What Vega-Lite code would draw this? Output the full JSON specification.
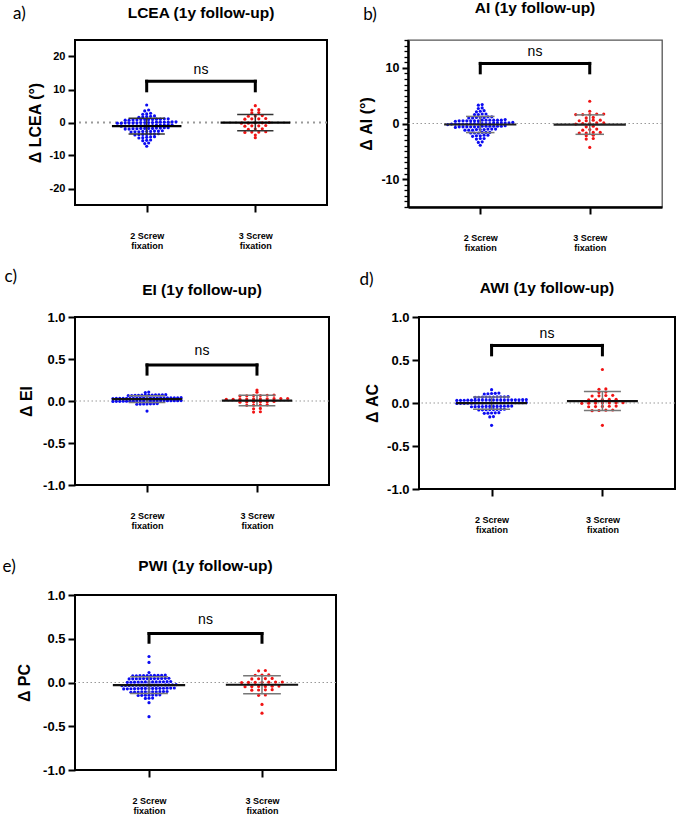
{
  "$schema": "https://vega.github.io/schema/vega-lite/v6.json",
  "padding": {"left": 2, "top": 0, "right": 0, "bottom": 0},
  "background": "white",
  "config": {
    "font": "Liberation Sans",
    "view": {"stroke": "#000", "strokeWidth": 2},
    "axis": {"domain": false, "grid": false, "tickColor": "#000", "tickWidth": 2, "tickSize": 7, "labelColor": "#000", "labelFont": "Liberation Sans", "labelFontWeight": "bold", "titleFont": "Liberation Sans", "titleFontWeight": "bold", "titleColor": "#000"},
    "axisY": {"labelFontSize": 13, "labelPadding": 3, "titleFontSize": 16, "titlePadding": 6},
    "axisX": {"labelFontSize": 9, "labelLineHeight": 10.5, "labelPadding": 19, "labelBaseline": "top", "labelAngle": 0},
    "title": {"font": "Liberation Sans", "fontSize": 15.5, "fontWeight": "bold", "color": "#000", "anchor": "middle", "frame": "group", "offset": 16}
  },
  "datasets": {
    "lcea": [
      {"s":2,"v":5.3},{"s":2,"v":3.5},{"s":2,"v":3.8},{"s":2,"v":2.6},{"s":2,"v":2.8},{"s":2,"v":2.5},
      {"s":2,"v":1.7},{"s":2,"v":1.9},{"s":2,"v":1.8},{"s":2,"v":1.6},{"s":2,"v":2.0},
      {"s":2,"v":0.8},{"s":2,"v":1.0},{"s":2,"v":0.9},{"s":2,"v":0.7},{"s":2,"v":1.1},{"s":2,"v":0.9},{"s":2,"v":0.8},{"s":2,"v":1.0},{"s":2,"v":0.9},{"s":2,"v":0.7},{"s":2,"v":1.1},{"s":2,"v":0.9},
      {"s":2,"v":0.0},{"s":2,"v":0.1},{"s":2,"v":-0.1},{"s":2,"v":0.2},{"s":2,"v":-0.2},{"s":2,"v":0.0},{"s":2,"v":0.1},{"s":2,"v":-0.1},{"s":2,"v":0.0},{"s":2,"v":0.2},{"s":2,"v":-0.2},{"s":2,"v":0.1},{"s":2,"v":-0.1},{"s":2,"v":0.0},{"s":2,"v":0.1},{"s":2,"v":-0.1},
      {"s":2,"v":-0.8},{"s":2,"v":-1.0},{"s":2,"v":-0.9},{"s":2,"v":-0.7},{"s":2,"v":-1.1},{"s":2,"v":-0.9},{"s":2,"v":-0.8},{"s":2,"v":-1.0},{"s":2,"v":-0.9},{"s":2,"v":-0.7},{"s":2,"v":-1.1},{"s":2,"v":-0.9},{"s":2,"v":-0.8},{"s":2,"v":-1.0},
      {"s":2,"v":-1.7},{"s":2,"v":-1.9},{"s":2,"v":-1.8},{"s":2,"v":-1.6},{"s":2,"v":-2.0},{"s":2,"v":-1.8},{"s":2,"v":-1.7},{"s":2,"v":-1.9},{"s":2,"v":-1.8},{"s":2,"v":-1.6},{"s":2,"v":-2.0},{"s":2,"v":-1.8},
      {"s":2,"v":-2.6},{"s":2,"v":-2.8},{"s":2,"v":-2.7},{"s":2,"v":-2.5},{"s":2,"v":-2.9},{"s":2,"v":-2.7},{"s":2,"v":-2.6},{"s":2,"v":-2.8},{"s":2,"v":-2.7},
      {"s":2,"v":-3.5},{"s":2,"v":-3.7},{"s":2,"v":-3.6},{"s":2,"v":-3.4},{"s":2,"v":-3.8},{"s":2,"v":-3.6},{"s":2,"v":-3.5},
      {"s":2,"v":-4.4},{"s":2,"v":-4.6},{"s":2,"v":-4.5},{"s":2,"v":-4.3},{"s":2,"v":-4.7},
      {"s":2,"v":-5.3},{"s":2,"v":-5.5},{"s":2,"v":-5.4},{"s":2,"v":-6.2},{"s":2,"v":-6.4},{"s":2,"v":-7.2},
      {"s":3,"v":5.1},{"s":3,"v":3.8},{"s":3,"v":3.9},{"s":3,"v":2.9},{"s":3,"v":3.0},{"s":3,"v":2.0},{"s":3,"v":2.1},{"s":3,"v":1.9},
      {"s":3,"v":1.1},{"s":3,"v":1.2},{"s":3,"v":1.0},{"s":3,"v":1.1},{"s":3,"v":-0.1},{"s":3,"v":-0.2},{"s":3,"v":0.0},{"s":3,"v":-0.1},{"s":3,"v":-0.2},
      {"s":3,"v":-1.0},{"s":3,"v":-0.9},{"s":3,"v":-1.1},{"s":3,"v":-1.0},{"s":3,"v":-2.0},{"s":3,"v":-1.9},{"s":3,"v":-2.1},
      {"s":3,"v":-2.9},{"s":3,"v":-2.8},{"s":3,"v":-3.0},{"s":3,"v":-2.9},{"s":3,"v":-3.8},{"s":3,"v":-4.6}
    ],
    "ai": [
      {"s":2,"v":3.3},{"s":2,"v":3.4},{"s":2,"v":2.7},{"s":2,"v":2.8},{"s":2,"v":2.2},{"s":2,"v":2.1},{"s":2,"v":2.3},
      {"s":2,"v":1.6},{"s":2,"v":1.7},{"s":2,"v":1.6},{"s":2,"v":1.7},
      {"s":2,"v":1.0},{"s":2,"v":1.1},{"s":2,"v":1.2},{"s":2,"v":1.1},{"s":2,"v":1.0},{"s":2,"v":1.2},{"s":2,"v":1.1},
      {"s":2,"v":0.5},{"s":2,"v":0.6},{"s":2,"v":0.5},{"s":2,"v":0.6},{"s":2,"v":0.5},{"s":2,"v":0.6},{"s":2,"v":0.5},{"s":2,"v":0.6},{"s":2,"v":0.5},{"s":2,"v":0.6},{"s":2,"v":0.5},{"s":2,"v":0.6},{"s":2,"v":0.4},{"s":2,"v":0.7},
      {"s":2,"v":0.0},{"s":2,"v":0.1},{"s":2,"v":-0.1},{"s":2,"v":0.0},{"s":2,"v":0.1},{"s":2,"v":-0.1},{"s":2,"v":0.0},{"s":2,"v":0.1},{"s":2,"v":-0.1},{"s":2,"v":0.0},{"s":2,"v":0.1},{"s":2,"v":-0.1},{"s":2,"v":0.2},{"s":2,"v":-0.2},{"s":2,"v":0.0},{"s":2,"v":0.1},{"s":2,"v":-0.1},{"s":2,"v":0.0},
      {"s":2,"v":-0.5},{"s":2,"v":-0.6},{"s":2,"v":-0.5},{"s":2,"v":-0.6},{"s":2,"v":-0.5},{"s":2,"v":-0.6},{"s":2,"v":-0.5},{"s":2,"v":-0.6},{"s":2,"v":-0.5},{"s":2,"v":-0.6},{"s":2,"v":-0.4},{"s":2,"v":-0.7},{"s":2,"v":-0.5},{"s":2,"v":-0.6},
      {"s":2,"v":-1.0},{"s":2,"v":-1.1},{"s":2,"v":-1.2},{"s":2,"v":-1.1},{"s":2,"v":-1.0},{"s":2,"v":-1.2},{"s":2,"v":-1.1},{"s":2,"v":-1.0},{"s":2,"v":-1.2},
      {"s":2,"v":-1.6},{"s":2,"v":-1.7},{"s":2,"v":-1.6},{"s":2,"v":-1.7},{"s":2,"v":-1.6},{"s":2,"v":-1.7},
      {"s":2,"v":-2.1},{"s":2,"v":-2.2},{"s":2,"v":-2.3},{"s":2,"v":-2.2},{"s":2,"v":-2.1},
      {"s":2,"v":-2.7},{"s":2,"v":-2.8},{"s":2,"v":-2.7},{"s":2,"v":-3.3},{"s":2,"v":-3.4},{"s":2,"v":-3.9},
      {"s":3,"v":4.0},{"s":3,"v":2.2},{"s":3,"v":1.6},{"s":3,"v":1.7},{"s":3,"v":1.6},{"s":3,"v":1.7},{"s":3,"v":1.6},
      {"s":3,"v":1.1},{"s":3,"v":1.0},{"s":3,"v":0.5},{"s":3,"v":0.6},{"s":3,"v":0.5},{"s":3,"v":0.6},
      {"s":3,"v":0.0},{"s":3,"v":0.1},{"s":3,"v":-0.1},{"s":3,"v":0.0},{"s":3,"v":0.1},{"s":3,"v":-0.5},{"s":3,"v":-0.6},
      {"s":3,"v":-1.1},{"s":3,"v":-1.0},{"s":3,"v":-1.2},{"s":3,"v":-1.6},{"s":3,"v":-1.7},{"s":3,"v":-1.6},{"s":3,"v":-1.7},
      {"s":3,"v":-2.2},{"s":3,"v":-2.1},{"s":3,"v":-2.8},{"s":3,"v":-2.7},{"s":3,"v":-4.3}
    ],
    "ei": [
      {"s":2,"v":0.1},{"s":2,"v":0.106},
      {"s":2,"v":0.068},{"s":2,"v":0.072},{"s":2,"v":0.07},{"s":2,"v":0.066},{"s":2,"v":0.074},{"s":2,"v":0.07},{"s":2,"v":0.068},{"s":2,"v":0.072},{"s":2,"v":0.065},{"s":2,"v":0.075},{"s":2,"v":0.069},{"s":2,"v":0.071},
      {"s":2,"v":0.033},{"s":2,"v":0.037},{"s":2,"v":0.035},{"s":2,"v":0.031},{"s":2,"v":0.039},{"s":2,"v":0.035},{"s":2,"v":0.033},{"s":2,"v":0.037},{"s":2,"v":0.035},{"s":2,"v":0.031},{"s":2,"v":0.039},{"s":2,"v":0.035},{"s":2,"v":0.034},{"s":2,"v":0.036},{"s":2,"v":0.032},{"s":2,"v":0.038},{"s":2,"v":0.035},{"s":2,"v":0.033},{"s":2,"v":0.037},{"s":2,"v":0.03},{"s":2,"v":0.04},
      {"s":2,"v":0.002},{"s":2,"v":-0.002},{"s":2,"v":0.0},{"s":2,"v":0.004},{"s":2,"v":-0.004},{"s":2,"v":0.001},{"s":2,"v":-0.001},{"s":2,"v":0.003},{"s":2,"v":-0.003},{"s":2,"v":0.0},{"s":2,"v":0.005},{"s":2,"v":-0.005},{"s":2,"v":0.002},{"s":2,"v":-0.002},{"s":2,"v":0.0},{"s":2,"v":0.004},{"s":2,"v":-0.004},{"s":2,"v":0.001},{"s":2,"v":-0.001},{"s":2,"v":0.003},{"s":2,"v":-0.003},
      {"s":2,"v":-0.033},{"s":2,"v":-0.037},{"s":2,"v":-0.035},{"s":2,"v":-0.031},{"s":2,"v":-0.039},{"s":2,"v":-0.034},{"s":2,"v":-0.036},{"s":2,"v":-0.12},
      {"s":3,"v":0.13},{"s":3,"v":0.105},{"s":3,"v":0.062},{"s":3,"v":0.068},{"s":3,"v":0.065},{"s":3,"v":0.06},{"s":3,"v":0.07},{"s":3,"v":0.064},
      {"s":3,"v":0.022},{"s":3,"v":0.028},{"s":3,"v":0.025},{"s":3,"v":0.02},{"s":3,"v":0.03},{"s":3,"v":0.024},{"s":3,"v":0.026},{"s":3,"v":0.021},{"s":3,"v":0.029},{"s":3,"v":0.025},
      {"s":3,"v":-0.008},{"s":3,"v":-0.012},{"s":3,"v":-0.01},{"s":3,"v":-0.006},{"s":3,"v":-0.014},{"s":3,"v":-0.01},
      {"s":3,"v":-0.048},{"s":3,"v":-0.052},{"s":3,"v":-0.05},{"s":3,"v":-0.046},{"s":3,"v":-0.088},{"s":3,"v":-0.092},{"s":3,"v":-0.128},{"s":3,"v":-0.132}
    ],
    "awi": [
      {"s":2,"v":0.155},{"s":2,"v":0.108},{"s":2,"v":0.112},{"s":2,"v":0.11},{"s":2,"v":0.105},{"s":2,"v":0.115},
      {"s":2,"v":0.068},{"s":2,"v":0.072},{"s":2,"v":0.07},{"s":2,"v":0.065},{"s":2,"v":0.075},{"s":2,"v":0.07},{"s":2,"v":0.067},{"s":2,"v":0.073},{"s":2,"v":0.069},{"s":2,"v":0.071},
      {"s":2,"v":0.033},{"s":2,"v":0.037},{"s":2,"v":0.035},{"s":2,"v":0.031},{"s":2,"v":0.039},{"s":2,"v":0.035},{"s":2,"v":0.033},{"s":2,"v":0.037},{"s":2,"v":0.035},{"s":2,"v":0.03},{"s":2,"v":0.04},{"s":2,"v":0.034},{"s":2,"v":0.036},{"s":2,"v":0.032},{"s":2,"v":0.038},{"s":2,"v":0.035},{"s":2,"v":0.033},{"s":2,"v":0.037},{"s":2,"v":0.035},{"s":2,"v":0.036},
      {"s":2,"v":0.002},{"s":2,"v":-0.002},{"s":2,"v":0.0},{"s":2,"v":0.004},{"s":2,"v":-0.004},{"s":2,"v":0.001},{"s":2,"v":-0.001},{"s":2,"v":0.003},{"s":2,"v":-0.003},{"s":2,"v":0.0},{"s":2,"v":0.005},{"s":2,"v":-0.005},{"s":2,"v":0.002},{"s":2,"v":-0.002},{"s":2,"v":0.0},{"s":2,"v":0.004},{"s":2,"v":-0.004},{"s":2,"v":0.001},{"s":2,"v":-0.001},{"s":2,"v":0.0},
      {"s":2,"v":-0.038},{"s":2,"v":-0.042},{"s":2,"v":-0.04},{"s":2,"v":-0.036},{"s":2,"v":-0.044},{"s":2,"v":-0.04},{"s":2,"v":-0.039},{"s":2,"v":-0.041},{"s":2,"v":-0.037},{"s":2,"v":-0.043},{"s":2,"v":-0.04},{"s":2,"v":-0.04},
      {"s":2,"v":-0.075},{"s":2,"v":-0.079},{"s":2,"v":-0.077},{"s":2,"v":-0.073},{"s":2,"v":-0.081},{"s":2,"v":-0.077},{"s":2,"v":-0.076},{"s":2,"v":-0.078},
      {"s":2,"v":-0.114},{"s":2,"v":-0.118},{"s":2,"v":-0.116},{"s":2,"v":-0.112},{"s":2,"v":-0.12},{"s":2,"v":-0.158},{"s":2,"v":-0.162},{"s":2,"v":-0.26},
      {"s":3,"v":0.39},{"s":3,"v":0.16},{"s":3,"v":0.164},{"s":3,"v":0.123},{"s":3,"v":0.127},
      {"s":3,"v":0.083},{"s":3,"v":0.087},{"s":3,"v":0.081},{"s":3,"v":0.089},
      {"s":3,"v":0.038},{"s":3,"v":0.042},{"s":3,"v":0.04},{"s":3,"v":0.036},{"s":3,"v":0.044},
      {"s":3,"v":0.002},{"s":3,"v":-0.002},{"s":3,"v":0.0},{"s":3,"v":0.004},{"s":3,"v":-0.004},{"s":3,"v":0.001},{"s":3,"v":-0.001},
      {"s":3,"v":-0.038},{"s":3,"v":-0.042},{"s":3,"v":-0.04},{"s":3,"v":-0.036},{"s":3,"v":-0.044},
      {"s":3,"v":-0.083},{"s":3,"v":-0.087},{"s":3,"v":-0.081},{"s":3,"v":-0.089},{"s":3,"v":-0.26}
    ],
    "pwi": [
      {"s":2,"v":0.297},{"s":2,"v":0.23},{"s":2,"v":0.114},
      {"s":2,"v":0.078},{"s":2,"v":0.082},{"s":2,"v":0.08},{"s":2,"v":0.075},{"s":2,"v":0.085},{"s":2,"v":0.08},{"s":2,"v":0.077},{"s":2,"v":0.083},{"s":2,"v":0.079},{"s":2,"v":0.081},
      {"s":2,"v":0.043},{"s":2,"v":0.047},{"s":2,"v":0.045},{"s":2,"v":0.041},{"s":2,"v":0.049},{"s":2,"v":0.045},{"s":2,"v":0.044},{"s":2,"v":0.046},{"s":2,"v":0.042},{"s":2,"v":0.048},{"s":2,"v":0.045},{"s":2,"v":0.045},
      {"s":2,"v":0.005},{"s":2,"v":0.009},{"s":2,"v":0.007},{"s":2,"v":0.003},{"s":2,"v":0.011},{"s":2,"v":0.007},{"s":2,"v":0.006},{"s":2,"v":0.008},{"s":2,"v":0.004},{"s":2,"v":0.01},{"s":2,"v":0.007},{"s":2,"v":0.007},{"s":2,"v":0.002},
      {"s":2,"v":-0.028},{"s":2,"v":-0.032},{"s":2,"v":-0.03},{"s":2,"v":-0.026},{"s":2,"v":-0.034},{"s":2,"v":-0.03},{"s":2,"v":-0.029},{"s":2,"v":-0.031},{"s":2,"v":-0.027},{"s":2,"v":-0.033},{"s":2,"v":-0.03},{"s":2,"v":-0.03},{"s":2,"v":-0.025},{"s":2,"v":-0.035},{"s":2,"v":-0.03},{"s":2,"v":-0.03},
      {"s":2,"v":-0.066},{"s":2,"v":-0.07},{"s":2,"v":-0.068},{"s":2,"v":-0.064},{"s":2,"v":-0.072},{"s":2,"v":-0.068},{"s":2,"v":-0.067},{"s":2,"v":-0.069},{"s":2,"v":-0.065},{"s":2,"v":-0.071},{"s":2,"v":-0.068},{"s":2,"v":-0.068},{"s":2,"v":-0.063},{"s":2,"v":-0.073},{"s":2,"v":-0.068},
      {"s":2,"v":-0.105},{"s":2,"v":-0.109},{"s":2,"v":-0.107},{"s":2,"v":-0.103},{"s":2,"v":-0.111},{"s":2,"v":-0.107},{"s":2,"v":-0.106},{"s":2,"v":-0.108},{"s":2,"v":-0.104},{"s":2,"v":-0.11},{"s":2,"v":-0.107},
      {"s":2,"v":-0.143},{"s":2,"v":-0.147},{"s":2,"v":-0.145},{"s":2,"v":-0.141},{"s":2,"v":-0.149},{"s":2,"v":-0.145},{"s":2,"v":-0.144},
      {"s":2,"v":-0.178},{"s":2,"v":-0.182},{"s":2,"v":-0.18},{"s":2,"v":-0.23},{"s":2,"v":-0.39},
      {"s":3,"v":0.133},{"s":3,"v":0.137},{"s":3,"v":0.083},{"s":3,"v":0.087},{"s":3,"v":0.085},
      {"s":3,"v":0.043},{"s":3,"v":0.047},{"s":3,"v":0.045},{"s":3,"v":0.041},
      {"s":3,"v":0.001},{"s":3,"v":0.005},{"s":3,"v":0.003},{"s":3,"v":0.0},{"s":3,"v":0.006},{"s":3,"v":0.002},{"s":3,"v":0.004},
      {"s":3,"v":-0.043},{"s":3,"v":-0.047},{"s":3,"v":-0.045},{"s":3,"v":-0.041},{"s":3,"v":-0.049},{"s":3,"v":-0.045},
      {"s":3,"v":-0.084},{"s":3,"v":-0.088},{"s":3,"v":-0.086},{"s":3,"v":-0.082},{"s":3,"v":-0.143},{"s":3,"v":-0.147},{"s":3,"v":-0.25},{"s":3,"v":-0.35}
    ]
  },
  "vconcat": [
    {
      "spacing": 13,
      "vconcat": [
        {
          "spacing": 28,
          "hconcat": [
            {
              "title": {"text": "a)", "anchor": "start", "frame": "bounds", "font": "Lato", "fontSize": 17, "fontWeight": "normal", "offset": -18, "dx": -13},
              "vconcat": [{
                "width": 252, "height": 165,
                "title": {"text": "LCEA (1y follow-up)", "offset": 19},
                "layer": [
                  {"data": {"values": [{}]},
                   "mark": {"type": "rule", "strokeDash": [2, 4], "strokeWidth": 2.2, "color": "#9a9a9a"},
                   "encoding": {"y": {"datum": 0, "type": "quantitative", "scale": {"domain": [-25, 25], "nice": false}, "axis": {"values": [-20, -10, 0, 10, 20], "labelExpr": "replace(datum.label, '\u2212', '-')", "labelFontSize": 11, "title": "Δ LCEA (°)"}}}},
                  {"data": {"name": "lcea"},
                   "transform": [
                     {"calculate": "round(datum.v / 0.9)", "as": "row"},
                     {"window": [{"op": "row_number", "as": "k"}, {"op": "count", "as": "n"}], "groupby": ["s", "row"], "sort": [{"field": "v"}], "frame": [null, null]},
                     {"calculate": "datum.s + (datum.k - (datum.n + 1) / 2) * (datum.s == 2 ? 0.036 : 0.064)", "as": "xp"}
                   ],
                   "mark": {"type": "circle", "size": 10, "opacity": 1},
                   "encoding": {
                     "x": {"field": "xp", "type": "quantitative", "scale": {"domain": [1.34, 3.66], "nice": false, "zero": false}, "axis": {"values": [2, 3], "labelExpr": "[datum.value + ' Screw', 'fixation']", "title": null}},
                     "y": {"field": "v", "type": "quantitative"},
                     "color": {"field": "s", "type": "nominal", "scale": {"domain": [2, 3], "range": ["#0b0bf2", "#f01414"]}, "legend": null}
                   }},
                  {"data": {"name": "lcea"},
                   "transform": [
                     {"aggregate": [{"op": "mean", "field": "v", "as": "m"}, {"op": "stdev", "field": "v", "as": "sd"}], "groupby": ["s"]},
                     {"calculate": "datum.m - datum.sd", "as": "lo"},
                     {"calculate": "datum.m + datum.sd", "as": "hi"},
                     {"calculate": "datum.s - 0.32", "as": "ml"},
                     {"calculate": "datum.s + 0.32", "as": "mr"},
                     {"calculate": "datum.s - 0.167", "as": "cl"},
                     {"calculate": "datum.s + 0.167", "as": "cr"}
                   ],
                   "layer": [
                     {"mark": {"type": "rule", "color": "#333", "strokeWidth": 1.5}, "encoding": {"x": {"field": "s", "type": "quantitative"}, "y": {"field": "lo", "type": "quantitative"}, "y2": {"field": "hi"}}},
                     {"mark": {"type": "rule", "color": "#333", "strokeWidth": 1.5}, "encoding": {"x": {"field": "cl", "type": "quantitative"}, "x2": {"field": "cr"}, "y": {"field": "lo", "type": "quantitative"}}},
                     {"mark": {"type": "rule", "color": "#333", "strokeWidth": 1.5}, "encoding": {"x": {"field": "cl", "type": "quantitative"}, "x2": {"field": "cr"}, "y": {"field": "hi", "type": "quantitative"}}},
                     {"mark": {"type": "rule", "color": "#000", "strokeWidth": 2.2}, "encoding": {"x": {"field": "ml", "type": "quantitative"}, "x2": {"field": "mr"}, "y": {"field": "m", "type": "quantitative"}}}
                   ]},
                  {"data": {"values": [{"xa": 2, "xb": 3, "ya": 12.5, "yb": 12.5}, {"xa": 2, "xb": 2, "ya": 9.6, "yb": 12.5}, {"xa": 3, "xb": 3, "ya": 9.6, "yb": 12.5}]},
                   "mark": {"type": "rule", "strokeWidth": 3, "color": "#000", "strokeCap": "square"},
                   "encoding": {"x": {"field": "xa", "type": "quantitative"}, "x2": {"field": "xb"}, "y": {"field": "ya", "type": "quantitative"}, "y2": {"field": "yb"}}},
                  {"data": {"values": [{"x": 2.5, "y": 16, "t": "ns"}]},
                   "mark": {"type": "text", "fontSize": 14, "baseline": "middle", "font": "Liberation Sans", "color": "#000"},
                   "encoding": {"x": {"field": "x", "type": "quantitative"}, "y": {"field": "y", "type": "quantitative"}, "text": {"field": "t"}}}
                ]
              }]
            },
            {
              "title": {"text": "b)", "anchor": "start", "frame": "bounds", "font": "Lato", "fontSize": 17, "fontWeight": "normal", "offset": -24, "dx": 5},
              "vconcat": [{
                "width": 254, "height": 167,
                "view": {"stroke": "#555", "strokeWidth": 1.3},
                "title": {"text": "AI (1y follow-up)", "offset": 23},
                "resolve": {"axis": {"y": "independent"}},
                "layer": [
                  {"data": {"values": [{}]},
                   "mark": {"type": "rule", "strokeDash": [1.5, 2.5], "strokeWidth": 1.2, "color": "#999"},
                   "encoding": {"y": {"datum": 0, "type": "quantitative", "scale": {"domain": [-15, 15], "nice": false},
                     "axis": {"orient": "left", "values": [-15,-14,-13,-12,-11,-9,-8,-7,-6,-5,-4,-3,-2,-1,1,2,3,4,5,6,7,8,9,11,12,13,14,15],
                              "labels": false, "tickSize": 4, "tickWidth": 1.3, "domain": false, "title": null}}}},
                  {"data": {"name": "ai"},
                   "transform": [
                     {"calculate": "round(datum.v / 0.55)", "as": "row"},
                     {"window": [{"op": "row_number", "as": "k"}, {"op": "count", "as": "n"}], "groupby": ["s", "row"], "sort": [{"field": "v"}], "frame": [null, null]},
                     {"calculate": "datum.s + (datum.k - (datum.n + 1) / 2) * (datum.s == 2 ? 0.035 : 0.064)", "as": "xp"}
                   ],
                   "mark": {"type": "circle", "size": 10, "opacity": 1},
                   "encoding": {
                     "x": {"field": "xp", "type": "quantitative", "scale": {"domain": [1.34, 3.66], "nice": false, "zero": false}, "axis": {"values": [2, 3], "labelExpr": "[datum.value + ' Screw', 'fixation']", "title": null, "domain": true, "domainWidth": 2.5, "domainColor": "#000"}},
                     "y": {"field": "v", "type": "quantitative",
                       "axis": {"orient": "left", "values": [-10, 0, 10], "labelExpr": "replace(datum.label, '\u2212', '-')", "labelFontSize": 12.5, "tickSize": 6, "tickWidth": 2,
                                "domain": true, "domainWidth": 2.5, "domainColor": "#000", "title": "Δ AI (°)"}},
                     "color": {"field": "s", "type": "nominal", "scale": {"domain": [2, 3], "range": ["#2a5cff", "#ff3b2f"]}, "legend": null}
                   }},
                  {"data": {"name": "ai"},
                   "transform": [
                     {"aggregate": [{"op": "mean", "field": "v", "as": "m"}, {"op": "stdev", "field": "v", "as": "sd"}], "groupby": ["s"]},
                     {"calculate": "datum.m - datum.sd", "as": "lo"},
                     {"calculate": "datum.m + datum.sd", "as": "hi"},
                     {"calculate": "datum.s - 0.33", "as": "ml"},
                     {"calculate": "datum.s + 0.33", "as": "mr"},
                     {"calculate": "datum.s - 0.13", "as": "cl"},
                     {"calculate": "datum.s + 0.13", "as": "cr"}
                   ],
                   "layer": [
                     {"mark": {"type": "rule", "color": "#777", "strokeWidth": 1.5}, "encoding": {"x": {"field": "s", "type": "quantitative"}, "y": {"field": "lo", "type": "quantitative", "axis": null}, "y2": {"field": "hi"}}},
                     {"mark": {"type": "rule", "color": "#777", "strokeWidth": 1.5}, "encoding": {"x": {"field": "cl", "type": "quantitative"}, "x2": {"field": "cr"}, "y": {"field": "lo", "type": "quantitative", "axis": null}}},
                     {"mark": {"type": "rule", "color": "#777", "strokeWidth": 1.5}, "encoding": {"x": {"field": "cl", "type": "quantitative"}, "x2": {"field": "cr"}, "y": {"field": "hi", "type": "quantitative", "axis": null}}},
                     {"mark": {"type": "rule", "color": "#222", "strokeWidth": 2.2}, "encoding": {"x": {"field": "ml", "type": "quantitative"}, "x2": {"field": "mr"}, "y": {"field": "m", "type": "quantitative", "axis": null}}}
                   ]},
                  {"data": {"values": [{"xa": 2, "xb": 3, "ya": 10.8, "yb": 10.8}, {"xa": 2, "xb": 2, "ya": 9.1, "yb": 10.8}, {"xa": 3, "xb": 3, "ya": 9.1, "yb": 10.8}]},
                   "mark": {"type": "rule", "strokeWidth": 3, "color": "#000", "strokeCap": "square"},
                   "encoding": {"x": {"field": "xa", "type": "quantitative"}, "x2": {"field": "xb"}, "y": {"field": "ya", "type": "quantitative", "axis": null}, "y2": {"field": "yb"}}},
                  {"data": {"values": [{"x": 2.5, "y": 12.9, "t": "ns"}]},
                   "mark": {"type": "text", "fontSize": 14, "baseline": "middle", "font": "Liberation Sans", "color": "#000"},
                   "encoding": {"x": {"field": "x", "type": "quantitative"}, "y": {"field": "y", "type": "quantitative", "axis": null}, "text": {"field": "t"}}}
                ]
              }]
            }
          ]
        },
        {
          "spacing": 28,
          "hconcat": [
            {
              "title": {"text": "c)", "anchor": "start", "frame": "bounds", "font": "Lato", "fontSize": 17, "fontWeight": "normal", "offset": -4, "dx": -13},
              "vconcat": [{
                "width": 254, "height": 168,
                "title": {"text": "EI (1y follow-up)", "offset": 13},
                "layer": [
                  {"data": {"values": [{}]},
                   "mark": {"type": "rule", "strokeDash": [1.5, 2.5], "strokeWidth": 1.2, "color": "#999"},
                   "encoding": {"y": {"datum": 0, "type": "quantitative", "scale": {"domain": [-1, 1], "nice": false}, "axis": {"values": [-1, -0.5, 0, 0.5, 1], "format": ".1f", "labelExpr": "replace(datum.label, '\u2212', '-')", "titlePadding": 8, "title": "Δ EI"}}}},
                  {"data": {"name": "ei"},
                   "transform": [
                     {"calculate": "round(datum.v / 0.035)", "as": "row"},
                     {"window": [{"op": "row_number", "as": "k"}, {"op": "count", "as": "n"}], "groupby": ["s", "row"], "sort": [{"field": "v"}], "frame": [null, null]},
                     {"calculate": "datum.s + (datum.k - (datum.n + 1) / 2) * (datum.s == 2 ? 0.031 : 0.062)", "as": "xp"}
                   ],
                   "mark": {"type": "circle", "size": 10, "opacity": 1},
                   "encoding": {
                     "x": {"field": "xp", "type": "quantitative", "scale": {"domain": [1.345, 3.655], "nice": false, "zero": false}, "axis": {"values": [2, 3], "labelExpr": "[datum.value + ' Screw', 'fixation']", "title": null}},
                     "y": {"field": "v", "type": "quantitative"},
                     "color": {"field": "s", "type": "nominal", "scale": {"domain": [2, 3], "range": ["#0b0bf2", "#f01414"]}, "legend": null}
                   }},
                  {"data": {"name": "ei"},
                   "transform": [
                     {"aggregate": [{"op": "mean", "field": "v", "as": "m"}, {"op": "stdev", "field": "v", "as": "sd"}], "groupby": ["s"]},
                     {"calculate": "datum.m - datum.sd", "as": "lo"},
                     {"calculate": "datum.m + datum.sd", "as": "hi"},
                     {"calculate": "datum.s - 0.32", "as": "ml"},
                     {"calculate": "datum.s + 0.32", "as": "mr"},
                     {"calculate": "datum.s - 0.167", "as": "cl"},
                     {"calculate": "datum.s + 0.167", "as": "cr"}
                   ],
                   "layer": [
                     {"mark": {"type": "rule", "color": "#777", "strokeWidth": 1.5}, "encoding": {"x": {"field": "s", "type": "quantitative"}, "y": {"field": "lo", "type": "quantitative"}, "y2": {"field": "hi"}}},
                     {"mark": {"type": "rule", "color": "#777", "strokeWidth": 1.5}, "encoding": {"x": {"field": "cl", "type": "quantitative"}, "x2": {"field": "cr"}, "y": {"field": "lo", "type": "quantitative"}}},
                     {"mark": {"type": "rule", "color": "#777", "strokeWidth": 1.5}, "encoding": {"x": {"field": "cl", "type": "quantitative"}, "x2": {"field": "cr"}, "y": {"field": "hi", "type": "quantitative"}}},
                     {"mark": {"type": "rule", "color": "#111", "strokeWidth": 2.2}, "encoding": {"x": {"field": "ml", "type": "quantitative"}, "x2": {"field": "mr"}, "y": {"field": "m", "type": "quantitative"}}}
                   ]},
                  {"data": {"values": [{"xa": 2, "xb": 3, "ya": 0.43, "yb": 0.43}, {"xa": 2, "xb": 2, "ya": 0.32, "yb": 0.43}, {"xa": 3, "xb": 3, "ya": 0.32, "yb": 0.43}]},
                   "mark": {"type": "rule", "strokeWidth": 3, "color": "#000", "strokeCap": "square"},
                   "encoding": {"x": {"field": "xa", "type": "quantitative"}, "x2": {"field": "xb"}, "y": {"field": "ya", "type": "quantitative"}, "y2": {"field": "yb"}}},
                  {"data": {"values": [{"x": 2.5, "y": 0.59, "t": "ns"}]},
                   "mark": {"type": "text", "fontSize": 14, "baseline": "middle", "font": "Liberation Sans", "color": "#000"},
                   "encoding": {"x": {"field": "x", "type": "quantitative"}, "y": {"field": "y", "type": "quantitative"}, "text": {"field": "t"}}}
                ]
              }]
            },
            {
              "title": {"text": "d)", "anchor": "start", "frame": "bounds", "font": "Lato", "fontSize": 17, "fontWeight": "normal", "offset": -9, "dx": -4},
              "vconcat": [{
                "width": 256, "height": 172,
                "title": {"text": "AWI (1y follow-up)", "offset": 15},
                "layer": [
                  {"data": {"values": [{}]},
                   "mark": {"type": "rule", "strokeDash": [1.5, 2.5], "strokeWidth": 1.2, "color": "#999"},
                   "encoding": {"y": {"datum": 0, "type": "quantitative", "scale": {"domain": [-1, 1], "nice": false}, "axis": {"values": [-1, -0.5, 0, 0.5, 1], "format": ".1f", "labelExpr": "replace(datum.label, '\u2212', '-')", "title": "Δ AC"}}}},
                  {"data": {"name": "awi"},
                   "transform": [
                     {"calculate": "round(datum.v / 0.037)", "as": "row"},
                     {"window": [{"op": "row_number", "as": "k"}, {"op": "count", "as": "n"}], "groupby": ["s", "row"], "sort": [{"field": "v"}], "frame": [null, null]},
                     {"calculate": "datum.s + (datum.k - (datum.n + 1) / 2) * (datum.s == 2 ? 0.033 : 0.062)", "as": "xp"}
                   ],
                   "mark": {"type": "circle", "size": 10, "opacity": 1},
                   "encoding": {
                     "x": {"field": "xp", "type": "quantitative", "scale": {"domain": [1.345, 3.655], "nice": false, "zero": false}, "axis": {"values": [2, 3], "labelExpr": "[datum.value + ' Screw', 'fixation']", "title": null}},
                     "y": {"field": "v", "type": "quantitative"},
                     "color": {"field": "s", "type": "nominal", "scale": {"domain": [2, 3], "range": ["#0b0bf2", "#f01414"]}, "legend": null}
                   }},
                  {"data": {"name": "awi"},
                   "transform": [
                     {"aggregate": [{"op": "mean", "field": "v", "as": "m"}, {"op": "stdev", "field": "v", "as": "sd"}], "groupby": ["s"]},
                     {"calculate": "datum.m - datum.sd", "as": "lo"},
                     {"calculate": "datum.m + datum.sd", "as": "hi"},
                     {"calculate": "datum.s - 0.32", "as": "ml"},
                     {"calculate": "datum.s + 0.32", "as": "mr"},
                     {"calculate": "datum.s - 0.167", "as": "cl"},
                     {"calculate": "datum.s + 0.167", "as": "cr"}
                   ],
                   "layer": [
                     {"mark": {"type": "rule", "color": "#777", "strokeWidth": 1.5}, "encoding": {"x": {"field": "s", "type": "quantitative"}, "y": {"field": "lo", "type": "quantitative"}, "y2": {"field": "hi"}}},
                     {"mark": {"type": "rule", "color": "#777", "strokeWidth": 1.5}, "encoding": {"x": {"field": "cl", "type": "quantitative"}, "x2": {"field": "cr"}, "y": {"field": "lo", "type": "quantitative"}}},
                     {"mark": {"type": "rule", "color": "#777", "strokeWidth": 1.5}, "encoding": {"x": {"field": "cl", "type": "quantitative"}, "x2": {"field": "cr"}, "y": {"field": "hi", "type": "quantitative"}}},
                     {"mark": {"type": "rule", "color": "#111", "strokeWidth": 2.2}, "encoding": {"x": {"field": "ml", "type": "quantitative"}, "x2": {"field": "mr"}, "y": {"field": "m", "type": "quantitative"}}}
                   ]},
                  {"data": {"values": [{"xa": 2, "xb": 3, "ya": 0.67, "yb": 0.67}, {"xa": 2, "xb": 2, "ya": 0.56, "yb": 0.67}, {"xa": 3, "xb": 3, "ya": 0.56, "yb": 0.67}]},
                   "mark": {"type": "rule", "strokeWidth": 3, "color": "#000", "strokeCap": "square"},
                   "encoding": {"x": {"field": "xa", "type": "quantitative"}, "x2": {"field": "xb"}, "y": {"field": "ya", "type": "quantitative"}, "y2": {"field": "yb"}}},
                  {"data": {"values": [{"x": 2.5, "y": 0.8, "t": "ns"}]},
                   "mark": {"type": "text", "fontSize": 14, "baseline": "middle", "font": "Liberation Sans", "color": "#000"},
                   "encoding": {"x": {"field": "x", "type": "quantitative"}, "y": {"field": "y", "type": "quantitative"}, "text": {"field": "t"}}}
                ]
              }]
            }
          ]
        }
      ]
    },
    {
      "hconcat": [
        {
          "title": {"text": "e)", "anchor": "start", "frame": "bounds", "font": "Lato", "fontSize": 17, "fontWeight": "normal", "offset": -18, "dx": -13},
          "vconcat": [{
            "width": 261, "height": 175,
            "title": {"text": "PWI (1y follow-up)", "offset": 15},
            "layer": [
              {"data": {"values": [{}]},
               "mark": {"type": "rule", "strokeDash": [1.5, 2.5], "strokeWidth": 1.2, "color": "#999"},
               "encoding": {"y": {"datum": 0, "type": "quantitative", "scale": {"domain": [-1, 1], "nice": false}, "axis": {"values": [-1, -0.5, 0, 0.5, 1], "format": ".1f", "labelExpr": "replace(datum.label, '\u2212', '-')", "titlePadding": 10, "title": "Δ PC"}}}},
              {"data": {"name": "pwi"},
               "transform": [
                 {"calculate": "round(datum.v / 0.038)", "as": "row"},
                 {"window": [{"op": "row_number", "as": "k"}, {"op": "count", "as": "n"}], "groupby": ["s", "row"], "sort": [{"field": "v"}], "frame": [null, null]},
                 {"calculate": "datum.s + (datum.k - (datum.n + 1) / 2) * (datum.s == 2 ? 0.032 : 0.06)", "as": "xp"}
               ],
               "mark": {"type": "circle", "size": 10, "opacity": 1},
               "encoding": {
                 "x": {"field": "xp", "type": "quantitative", "scale": {"domain": [1.345, 3.655], "nice": false, "zero": false}, "axis": {"values": [2, 3], "labelExpr": "[datum.value + ' Screw', 'fixation']", "title": null}},
                 "y": {"field": "v", "type": "quantitative"},
                 "color": {"field": "s", "type": "nominal", "scale": {"domain": [2, 3], "range": ["#0b0bf2", "#f01414"]}, "legend": null}
               }},
              {"data": {"name": "pwi"},
               "transform": [
                 {"aggregate": [{"op": "mean", "field": "v", "as": "m"}, {"op": "stdev", "field": "v", "as": "sd"}], "groupby": ["s"]},
                 {"calculate": "datum.m - datum.sd", "as": "lo"},
                 {"calculate": "datum.m + datum.sd", "as": "hi"},
                 {"calculate": "datum.s - 0.32", "as": "ml"},
                 {"calculate": "datum.s + 0.32", "as": "mr"},
                 {"calculate": "datum.s - 0.167", "as": "cl"},
                 {"calculate": "datum.s + 0.167", "as": "cr"}
               ],
               "layer": [
                 {"mark": {"type": "rule", "color": "#777", "strokeWidth": 1.5}, "encoding": {"x": {"field": "s", "type": "quantitative"}, "y": {"field": "lo", "type": "quantitative"}, "y2": {"field": "hi"}}},
                 {"mark": {"type": "rule", "color": "#777", "strokeWidth": 1.5}, "encoding": {"x": {"field": "cl", "type": "quantitative"}, "x2": {"field": "cr"}, "y": {"field": "lo", "type": "quantitative"}}},
                 {"mark": {"type": "rule", "color": "#777", "strokeWidth": 1.5}, "encoding": {"x": {"field": "cl", "type": "quantitative"}, "x2": {"field": "cr"}, "y": {"field": "hi", "type": "quantitative"}}},
                 {"mark": {"type": "rule", "color": "#111", "strokeWidth": 2.2}, "encoding": {"x": {"field": "ml", "type": "quantitative"}, "x2": {"field": "mr"}, "y": {"field": "m", "type": "quantitative"}}}
               ]},
              {"data": {"values": [{"xa": 2, "xb": 3, "ya": 0.56, "yb": 0.56}, {"xa": 2, "xb": 2, "ya": 0.46, "yb": 0.56}, {"xa": 3, "xb": 3, "ya": 0.46, "yb": 0.56}]},
               "mark": {"type": "rule", "strokeWidth": 3, "color": "#000", "strokeCap": "square"},
               "encoding": {"x": {"field": "xa", "type": "quantitative"}, "x2": {"field": "xb"}, "y": {"field": "ya", "type": "quantitative"}, "y2": {"field": "yb"}}},
              {"data": {"values": [{"x": 2.5, "y": 0.72, "t": "ns"}]},
               "mark": {"type": "text", "fontSize": 14, "baseline": "middle", "font": "Liberation Sans", "color": "#000"},
               "encoding": {"x": {"field": "x", "type": "quantitative"}, "y": {"field": "y", "type": "quantitative"}, "text": {"field": "t"}}}
            ]
          }]
        }
      ]
    }
  ],
  "spacing": 21
}
